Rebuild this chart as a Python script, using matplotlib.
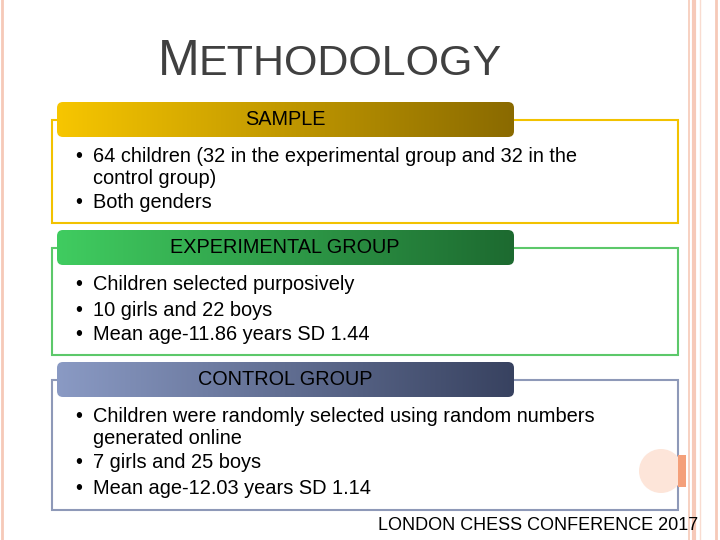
import numpy as np
import matplotlib.pyplot as plt
from matplotlib.patches import FancyBboxPatch, Rectangle, Circle
from matplotlib.colors import LinearSegmentedColormap

plt.rcParams["font.family"] = "Liberation Sans"

title_first = "M"
title_rest = "ETHODOLOGY"
headers = ["SAMPLE", "EXPERIMENTAL GROUP", "CONTROL GROUP"]
bullets = [
    [["64 children (32 in the experimental group and 32 in the", "control group)"], ["Both genders"]],
    [["Children selected purposively"], ["10 girls and 22 boys"], ["Mean age-11.86 years SD 1.44"]],
    [["Children were randomly selected using random numbers", "generated online"],
     ["7 girls and 25 boys"], ["Mean age-12.03 years SD 1.14"]],
]
footer = "LONDON CHESS CONFERENCE 2017"

# layout (pixels): box top, box bottom, header top
boxes = [(120, 223, 102), (248, 355, 230), (380, 510, 362)]
outline_cols = ["#F2C200", "#5CC86A", "#8E99B8"]
grads = [("#F7C600", "#8A6A00"), ("#40CC60", "#1D6A30"), ("#8A9AC4", "#384260")]

fig = plt.figure(figsize=(7.2, 5.4), dpi=100)
ax = fig.add_axes([0, 0, 1, 1])
ax.set_xlim(0, 720)
ax.set_ylim(540, 0)
ax.axis("off")

# side decorations
for x, c, w in [(689, "#F6C9B8", 1.2), (694, "#F6C9B8", 3), (700, "#F9DCD0", 1), (716, "#F6C9B8", 2)]:
    ax.plot([x, x], [0, 540], color=c, lw=w)
ax.plot([2, 2], [0, 540], color="#F6C9B8", lw=2)

ax.text(158, 75, title_first, fontsize=36, color="#404040", va="baseline")
ax.text(199, 75, title_rest, fontsize=31, color="#404040", va="baseline")

for i, (top, bot, htop) in enumerate(boxes):
    ax.add_patch(Rectangle((52, top), 626, bot - top, fill=False, ec=outline_cols[i], lw=1.5))
    cmap = LinearSegmentedColormap.from_list("g", grads[i])
    patch = FancyBboxPatch((57, htop), 457, 35, boxstyle="round,pad=0,rounding_size=6",
                           fc="none", ec="none")
    ax.add_patch(patch)
    im = ax.imshow(np.linspace(0, 1, 256)[None, :], cmap=cmap, aspect="auto",
                   extent=(57, 514, htop + 35, htop), zorder=2)
    im.set_clip_path(patch)
    ax.text(285, htop + 17.5, headers[i], fontsize=14.3, ha="center", va="center", zorder=3)
    y = top + 37
    for b in bullets[i]:
        ax.text(75, y, "•", fontsize=14.4, va="center")
        for line in b:
            ax.text(93, y, line, fontsize=14.4, va="center")
            y += 21
        y += 4

ax.add_patch(Circle((661, 471), 22, fc="#FDE5D9", ec="none"))
ax.add_patch(Rectangle((678, 455), 8, 32, fc="#F4A07A", ec="none"))
ax.text(698, 525, footer, fontsize=13, ha="right", va="center")

fig.savefig("out.png", dpi=100)
